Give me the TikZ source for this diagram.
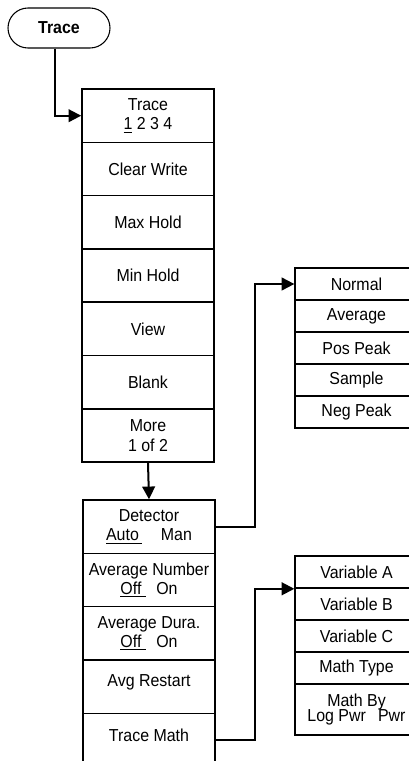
\documentclass[tikz,border=0pt]{standalone}
\usepackage{fontspec}
\setmainfont[FakeStretch=0.92]{Liberation Sans}
\usepackage{tikz}
\usetikzlibrary{positioning,
                calc,
                arrows.meta}

\begin{document}
\begin{tikzpicture}[x=0.75pt,y=-0.75pt]

\tikzset{
menukey/.style={
draw=black,
line width=1.2pt,
minimum width=99pt,
minimum height=40pt,
inner sep=0pt,
align=center,
font=\fontsize{13}{14.5}\selectfont
},
subkey/.style={
draw=black,
line width=1.2pt,
minimum width=92pt,
minimum height=24pt,
inner sep=0pt,
align=center,
font=\fontsize{13}{14.5}\selectfont
},
hardkey/.style={
draw=black,
line width=0.8pt,
rounded corners=15pt,
minimum width=76.5pt,
minimum height=30pt,
font=\fontsize{13}{15}\selectfont\bfseries
},
conn/.style={
line width=1.5pt,
-{Triangle[length=9.5pt,width=9.5pt]}
}
}

\useasboundingbox (0,0) rectangle (409,761);
\clip (0,0) rectangle (409,761);

%--------------------------------------------------
% FRONT PANEL KEY
%--------------------------------------------------

\node[hardkey] (tracekey) at (59,28) {Trace};

%--------------------------------------------------
% TRACE MENU, PAGE 1
%--------------------------------------------------

\node[menukey] (trace) at (148,115.7)
{Trace\\\underline{1}\ 2\ 3\ 4};
\node[menukey] (clrwrite) at (148,169) {Clear Write};
\node[menukey] (maxhold) at (148,222.3) {Max Hold};
\node[menukey] (minhold) at (148,275.6) {Min Hold};
\node[menukey] (view) at (148,328.9) {View};
\node[menukey] (blank) at (148,382.2) {Blank};
\node[menukey] (more) at (148,435.5) {More\\1 of 2};

%--------------------------------------------------
% TRACE MENU, PAGE 2
%--------------------------------------------------

\node[menukey] (detector) at (149,526.7)
{Detector\\\underline{Auto\,}\hspace{1.1em}Man};
\node[menukey] (avgnum) at (149,580)
{Average Number\\\underline{Off\ }\hspace{0.6em}On};
\node[menukey] (avgdura) at (149,633.3)
{Average Dura.\\\underline{Off\ }\hspace{0.6em}On};
\node[menukey] (avgrestart) at (149,686.7) {Avg Restart\\[-5.5pt]};
\node[menukey] (tracemath) at (149,740) {Trace Math\\[-7pt]};

%--------------------------------------------------
% DETECTOR SUBMENU
%--------------------------------------------------

\node[subkey] (normal) at (356.5,284) {Normal};
\node[subkey] (average) at (356.5,316) {Average};
\node[subkey] (pospeak) at (356.5,348) {Pos Peak};
\node[subkey] (sample) at (356.5,380) {Sample};
\node[subkey] (negpeak) at (356.5,412) {Neg Peak};

%--------------------------------------------------
% TRACE MATH SUBMENU
%--------------------------------------------------

\node[subkey] (vara) at (356.5,572) {Variable A};
\node[subkey] (varb) at (356.5,604) {Variable B};
\node[subkey] (varc) at (356.5,636) {Variable C};
\node[subkey] (mathtype) at (356.5,668) {Math Type};
\node[subkey,minimum height=38.25pt] (mathby) at (356.5,709.5)
{Math By\\[-3pt]Log Pwr\hspace{0.7em}Pwr};

%--------------------------------------------------
% CONNECTORS
%--------------------------------------------------

\draw[conn] ([xshift=-3pt]tracekey.south) |- (trace.west);
\draw[conn] (more.south) -- (detector.north);
\draw[conn] (detector.east) -- ++(39,0) |- (normal.west);
\draw[conn] (tracemath.east) -- ++(39,0) |- (vara.south west);

\end{tikzpicture}
\end{document}
